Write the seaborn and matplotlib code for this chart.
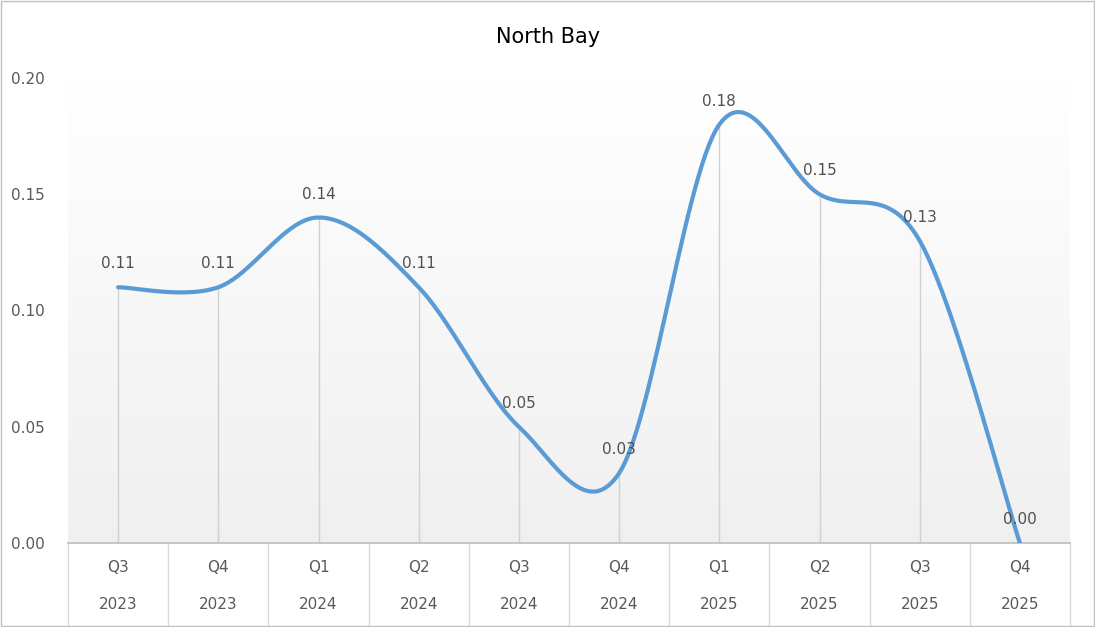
import numpy as np
import matplotlib
matplotlib.use("Agg")
import matplotlib.pyplot as plt
import seaborn as sns
import pandas as pd

quarters = ["Q3","Q4","Q1","Q2","Q3","Q4","Q1","Q2","Q3","Q4"]
years = ["2023","2023","2024","2024","2024","2024","2025","2025","2025","2025"]
values = [0.11,0.11,0.14,0.11,0.05,0.03,0.18,0.15,0.13,0.00]
labels = ["0.11","0.11","0.14","0.11","0.05","0.03","0.18","0.15","0.13","0.00"]

sns.set_theme(style="white")
plt.rcParams['font.family'] = ['DejaVu Sans']
fig = plt.figure(figsize=(10.95, 6.27), dpi=100)
ax = fig.add_axes([68/1095, 84/627, 1002/1095, 465/627])

x = np.arange(len(values))
y = np.array(values)
# Catmull-Rom smoothing for rendering (Excel-like smoothed line)
P = np.column_stack([x, y]).astype(float)
Pp = np.vstack([P[0], P, P[-1]])
pts = []
t = np.linspace(0, 1, 30)
for i in range(1, len(Pp) - 2):
    p0, p1, p2, p3 = Pp[i-1], Pp[i], Pp[i+1], Pp[i+2]
    c1 = p1 + (p2 - p0) / 6
    c2 = p2 - (p3 - p1) / 6
    seg = ((1-t)**3)[:, None]*p1 + (3*(1-t)**2*t)[:, None]*c1 + (3*(1-t)*t**2)[:, None]*c2 + (t**3)[:, None]*p2
    pts.append(seg)
pts = np.vstack(pts)

ax.set_xlim(-0.5, 9.5)
ax.set_ylim(0, 0.2)
grad = np.linspace(0.94, 1.0, 256).reshape(-1, 1)
ax.imshow(np.dstack([grad]*3), extent=[-0.5, 9.5, 0, 0.2], aspect='auto', origin='lower', zorder=0)

ax.vlines(x, 0, y, color="#d0d0d0", lw=1, zorder=1)
df = pd.DataFrame({"x": pts[:, 0], "y": pts[:, 1]})
sns.lineplot(data=df, x="x", y="y", ax=ax, color="#5b9bd5", lw=3, sort=False, zorder=3)
for xi, yi, lb in zip(x, y, labels):
    ax.text(xi, yi + 0.0068, lb, ha="center", va="bottom", fontsize=11, color="#505050", zorder=4)

ax.set_xlabel(""); ax.set_ylabel("")
ax.set_xticks([])
ax.set_yticks([0, 0.05, 0.10, 0.15, 0.20])
ax.set_yticklabels(["0.00", "0.05", "0.10", "0.15", "0.20"], fontsize=11, color="#595959")
ax.tick_params(axis="y", length=0, pad=17)
for s in ["top", "right", "left"]:
    ax.spines[s].set_visible(False)
ax.spines["bottom"].set_color("#bfbfbf")

for xi, q, yr in zip(x, quarters, years):
    ax.text(xi, -0.0105, q, ha="center", va="center", fontsize=11, color="#595959", clip_on=False)
    ax.text(xi, -0.0265, yr, ha="center", va="center", fontsize=11, color="#595959", clip_on=False)
for b in np.arange(-0.5, 10, 1):
    ax.plot([b, b], [0, -0.036], color="#d9d9d9", lw=1, clip_on=False)

fig.text(548/1095, 1 - 37/627, "North Bay", ha="center", va="center", fontsize=15, color="#000000")
fig.patches.append(plt.Rectangle((0.001, 0.001), 0.998, 0.997, transform=fig.transFigure, fill=False, edgecolor="#bfbfbf", lw=1))
fig.savefig("out.png", dpi=100)
